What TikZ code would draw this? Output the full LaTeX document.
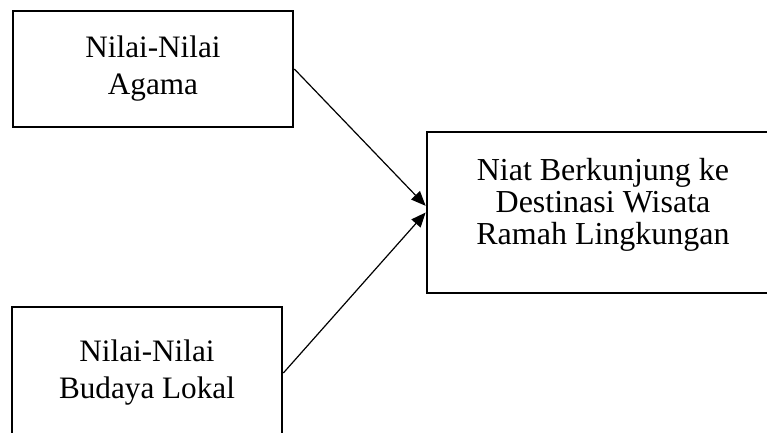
\documentclass[tikz,border=0pt]{standalone}
\usepackage{fontspec}
\setmainfont{Liberation Serif}
\usetikzlibrary{arrows.meta}
\begin{document}
\begin{tikzpicture}[x=0.75pt, y=-0.75pt,
box/.style={rectangle, draw=black, line width=2pt, fill=white, align=center, font=\fontsize{23.4}{27.75}\selectfont},
txt/.style={align=center, font=\fontsize{24}{24}\selectfont},
arrow/.style={-{Triangle[length=11pt, width=9pt]}, line width=0.9pt}
]
\useasboundingbox (0,0) rectangle (767,432);
\clip (0,0) rectangle (767,432);
%Nodes
\node[box, minimum width=210pt, minimum height=87pt]     (agama)     at (153,69)    {Nilai-Nilai\\Agama};
\node[box, minimum width=202.5pt, minimum height=99pt]   (budaya)    at (147,373)   {Nilai-Nilai\\Budaya Lokal};
\node[box, minimum width=264pt, minimum height=120.75pt] (niat)      at (603,212.5) {};
\node[txt]                                               (niatlabel) at (603,205)   {Niat Berkunjung ke\\Destinasi Wisata\\Ramah Lingkungan};
%Lines
\draw[arrow] (agama.east) -- ([yshift=5pt]niat.west);
\draw[arrow] (budaya.east) -- (niat.west);
\end{tikzpicture}
\end{document}
